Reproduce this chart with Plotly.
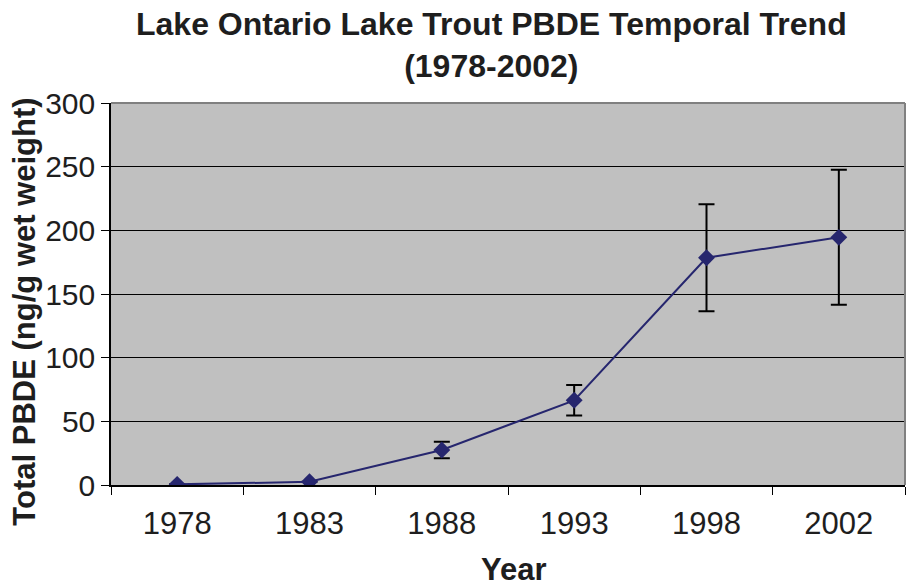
import plotly.graph_objects as go

# Lake Ontario lake trout, total PBDE (ng/g wet weight) by sampling year
years = ["1978", "1983", "1988", "1993", "1998", "2002"]
total_pbde = [0.5, 2.5, 27.5, 66.5, 178.5, 194.5]
pbde_err = [0, 0, 6.5, 12, 42, 53]
y_ticks = [0, 50, 100, 150, 200, 250, 300]

text_color = "#1e1e1e"
line_color = "#26266e"

fig = go.Figure()
fig.add_trace(go.Scatter(
    x=years,
    y=total_pbde,
    mode="lines+markers",
    line=dict(color=line_color, width=2),
    marker=dict(symbol="diamond", size=13, color=line_color),
    error_y=dict(type="data", array=pbde_err, visible=True,
                 color="black", thickness=2, width=8),
    showlegend=False,
))

fig.update_layout(
    width=907, height=588,
    margin=dict(l=111, r=2, t=103, b=103),
    paper_bgcolor="white",
    plot_bgcolor="#c0c0c0",
    font=dict(family="Liberation Sans, Arial, sans-serif", color=text_color),
    xaxis=dict(
        type="category",
        range=[-0.5, 5.5],
        showline=True, linecolor="black", linewidth=1.5,
        ticks="outside", tickson="boundaries", ticklen=8, tickcolor="black",
        tickfont=dict(size=31, color=text_color),
        ticklabelstandoff=10,
        showgrid=False,
    ),
    yaxis=dict(
        range=[0, 300],
        tickvals=y_ticks,
        showline=True, linecolor="black", linewidth=1.5,
        ticks="outside", ticklen=8, tickcolor="black",
        tickfont=dict(size=30, color=text_color),
        showgrid=True, gridcolor="black", gridwidth=1,
        zeroline=False,
    ),
)

# chart title, two centred lines above the plotting area
fig.add_annotation(
    text="<b>Lake Ontario Lake Trout PBDE Temporal Trend<br>(1978-2002)</b>",
    xref="paper", yref="paper", x=0.479, y=1.152,
    xanchor="center", yanchor="middle", showarrow=False,
    font=dict(size=32, color=text_color),
)

# axis titles
fig.add_annotation(
    text="<b>Year</b>",
    xref="paper", yref="paper", x=0.508, y=-0.222,
    xanchor="center", yanchor="middle", showarrow=False,
    font=dict(size=31, color=text_color),
)
fig.add_annotation(
    text="<b>Total PBDE (ng/g wet weight)</b>",
    xref="paper", yref="paper", x=-0.109, y=0.455,
    xanchor="center", yanchor="middle", showarrow=False, textangle=-90,
    font=dict(size=31, color=text_color),
)

# grey frame along the top and right of the plotting area
fig.add_shape(type="line", xref="paper", yref="paper", x0=0, x1=1, y0=1, y1=1,
              line=dict(color="#808080", width=2))
fig.add_shape(type="line", xref="paper", yref="paper", x0=1, x1=1, y0=0, y1=1,
              line=dict(color="#808080", width=2))

fig.write_html("out.html")
